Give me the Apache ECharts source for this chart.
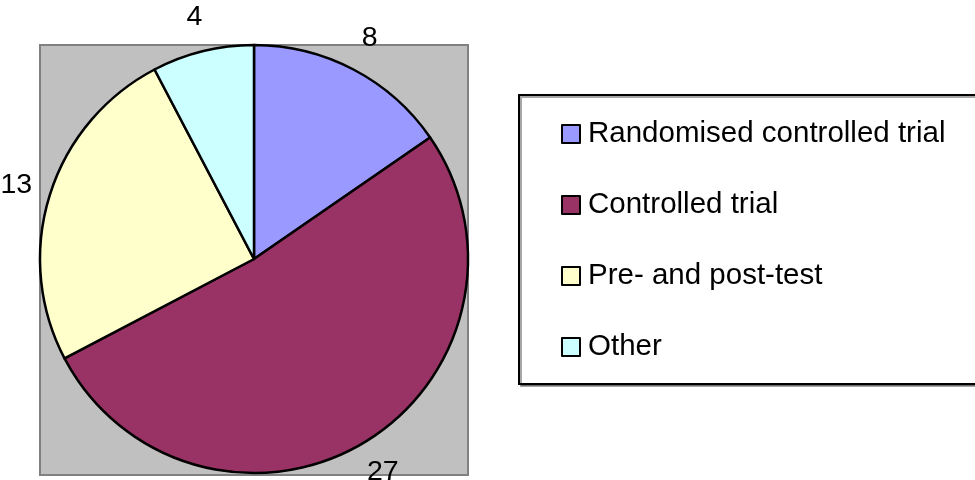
<!DOCTYPE html>
<html>
<head>
<meta charset="utf-8">
<script src="https://cdn.jsdelivr.net/npm/echarts@6/dist/echarts.min.js"></script>
<style>
  html, body { margin: 0; padding: 0; background: #fff; }
  #chart { width: 975px; height: 480px; }
</style>
</head>
<body>
<div id="chart"></div>
<script>
// Study designs and number of studies per design
const categories = ['Randomised controlled trial', 'Controlled trial', 'Pre- and post-test', 'Other'];
const counts = [8, 27, 13, 4];
const sliceColors = ['#9999FF', '#993366', '#FFFFCC', '#CCFFFF'];

const FONT = '"Liberation Sans", Arial, sans-serif';
const CENTER = [254, 259];
const R = 214;

const pieData = categories.map((name, i) => ({
  name,
  value: counts[i],
  itemStyle: { color: sliceColors[i] }
}));

const chart = echarts.init(document.getElementById('chart'), null, { renderer: 'canvas' });

chart.setOption({
  animation: false,
  backgroundColor: '#ffffff',
  textStyle: { fontFamily: FONT },
  graphic: [
    {
      // grey plot area behind the pie
      type: 'rect',
      z: -10,
      silent: true,
      shape: { x: 40, y: 45, width: 428, height: 430 },
      style: { fill: '#C0C0C0', stroke: '#808080', lineWidth: 2 }
    }
  ],
  legend: {
    orient: 'vertical',
    left: 519,
    top: 95,
    padding: [24, 60, 22, 42],
    itemGap: 41,
    itemWidth: 18,
    itemHeight: 18,
    icon: 'rect',
    borderColor: '#000',
    borderWidth: 2,
    backgroundColor: '#fff',
    shadowColor: 'rgba(0,0,0,0.35)',
    shadowOffsetX: 2,
    shadowOffsetY: 2,
    shadowBlur: 0,
    itemStyle: { borderColor: '#000', borderWidth: 2 },
    textStyle: {
      fontFamily: FONT,
      fontSize: 29.5,
      color: '#000',
      padding: [0, 0, 0, 3]
    },
    selectedMode: false,
    data: categories
  },
  series: [
    {
      // the pie itself
      type: 'pie',
      center: CENTER,
      radius: R,
      startAngle: 90,
      clockwise: true,
      silent: true,
      itemStyle: { borderColor: '#000', borderWidth: 2.5 },
      label: { show: false },
      labelLine: { show: false },
      emphasis: { disabled: true },
      data: pieData
    },
    {
      // transparent ring carrying the value labels just outside the pie
      type: 'pie',
      center: CENTER,
      radius: [R + 2, R + 62],
      startAngle: 90,
      clockwise: true,
      silent: true,
      legendHoverLink: false,
      itemStyle: { color: 'rgba(0,0,0,0)', borderWidth: 0 },
      label: {
        show: true,
        position: 'inside',
        formatter: '{c}',
        fontFamily: FONT,
        fontSize: 28.5,
        color: '#000'
      },
      labelLine: { show: false },
      emphasis: { disabled: true },
      data: categories.map((name, i) => ({ name, value: counts[i] }))
    }
  ]
});
</script>
</body>
</html>
